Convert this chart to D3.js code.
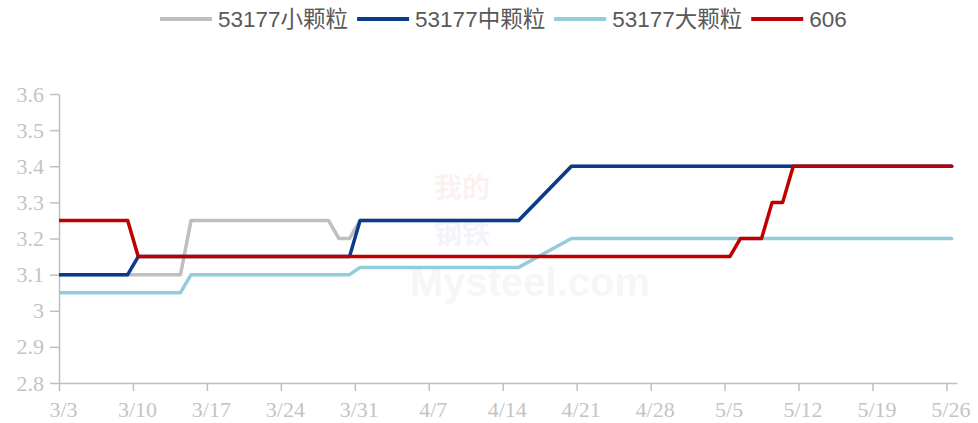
<!DOCTYPE html>
<html>
<head>
<meta charset="utf-8">
<script src="https://cdn.jsdelivr.net/npm/d3@7"></script>
<style>
  body { margin: 0; background: #fff; }
  .axis path, .axis line { stroke: #bfbfbf; stroke-width: 1.5; }
  .axis text { fill: #c4c4c4; font-family: "Liberation Serif", serif; font-size: 22px; }
  .legend text { fill: #595959; font-family: "Liberation Sans", "Noto Sans CJK SC", sans-serif; font-size: 22.5px; }
</style>
</head>
<body>
<svg id="chart" width="978" height="423"></svg>
<script>
// series names and colours
const seriesNames = ["53177小颗粒", "53177中颗粒", "53177大颗粒", "606"];
const seriesColors = ["#bfbfbf", "#0b3b8b", "#92cddc", "#c00000"];

// each series is kept as the dates where its price changes
const smallDates = ["3/2", "3/14", "3/15", "3/28", "3/29", "3/30", "3/31", "4/15", "4/20", "5/26"];
const smallValues = [3.1, 3.1, 3.25, 3.25, 3.2, 3.2, 3.25, 3.25, 3.4, 3.4];

const midDates = ["3/2", "3/9", "3/10", "3/30", "3/31", "4/15", "4/20", "5/26"];
const midValues = [3.1, 3.1, 3.15, 3.15, 3.25, 3.25, 3.4, 3.4];

const bigDates = ["3/2", "3/14", "3/15", "3/30", "3/31", "4/15", "4/20", "5/26"];
const bigValues = [3.05, 3.05, 3.1, 3.1, 3.12, 3.12, 3.2, 3.2];

const s606Dates = ["3/2", "3/9", "3/10", "5/5", "5/6", "5/8", "5/9", "5/10", "5/11", "5/26"];
const s606Values = [3.25, 3.25, 3.15, 3.15, 3.2, 3.2, 3.3, 3.3, 3.4, 3.4];

const xTickLabels = ["3/3", "3/10", "3/17", "3/24", "3/31", "4/7", "4/14", "4/21", "4/28", "5/5", "5/12", "5/19", "5/26"];
const yTicks = [2.8, 2.9, 3.0, 3.1, 3.2, 3.3, 3.4, 3.5, 3.6];

const parse = d3.utcParse("%m/%d");
const svg = d3.select("#chart");

let plotLeft = 59, plotRight = 957, plotTop = 94, plotBottom = 383;

let x = d3.scaleUtc()
  .domain([parse("3/3"), parse("5/27")])
  .range([plotLeft, plotRight]);

let y = d3.scaleLinear()
  .domain([2.8, 3.6])
  .range([plotBottom, plotTop]);

// each day is a slot, the point sits in the middle of it
function px(dateStr) {
  return x(d3.utcHour.offset(parse(dateStr), 12));
}

svg.append("defs").append("clipPath").attr("id", "plotClip")
  .append("rect")
  .attr("x", plotLeft).attr("y", 0)
  .attr("width", plotRight - plotLeft).attr("height", 423);

// faint watermark
let wm = svg.append("g").attr("opacity", 0.05);
wm.append("text").attr("x", 462).attr("y", 198)
  .attr("text-anchor", "middle")
  .style("font-family", "Noto Sans CJK SC").style("font-size", "28px").style("font-weight", "bold")
  .attr("fill", "#c00000").text("我的");
wm.append("text").attr("x", 462).attr("y", 244)
  .attr("text-anchor", "middle")
  .style("font-family", "Noto Sans CJK SC").style("font-size", "28px").style("font-weight", "bold")
  .attr("fill", "#1f3c88").text("钢铁");
wm.append("text").attr("x", 530).attr("y", 296)
  .attr("text-anchor", "middle")
  .style("font-family", "Liberation Sans").style("font-size", "40px").style("font-weight", "bold")
  .attr("fill", "#666").text("Mysteel.com");

// axes
let xAxis = d3.axisBottom(x)
  .tickValues(xTickLabels.map(parse))
  .tickFormat(d3.utcFormat("%-m/%-d"))
  .tickSize(8)
  .tickSizeOuter(0);

let gx = svg.append("g").attr("class", "axis")
  .attr("transform", `translate(0,${plotBottom})`)
  .call(xAxis);
gx.selectAll("text").attr("dx", 4).attr("dy", "1.05em");

let yAxis = d3.axisLeft(y)
  .tickValues(yTicks)
  .tickFormat(d => String(+d.toFixed(1)))
  .tickSize(9)
  .tickSizeOuter(0);

let gy = svg.append("g").attr("class", "axis")
  .attr("transform", `translate(${plotLeft},0)`)
  .call(yAxis);
gy.selectAll("text").attr("x", -15);

// lines
let allSeries = [
  {dates: smallDates, values: smallValues},
  {dates: midDates, values: midValues},
  {dates: bigDates, values: bigValues},
  {dates: s606Dates, values: s606Values}
];

let line = d3.line()
  .x(d => px(d[0]))
  .y(d => y(d[1]));

svg.append("g").attr("clip-path", "url(#plotClip)")
  .selectAll("path")
  .data(allSeries)
  .enter()
  .append("path")
  .attr("d", s => line(s.dates.map((d, i) => [d, s.values[i]])))
  .attr("fill", "none")
  .attr("stroke", (s, i) => seriesColors[i])
  .attr("stroke-width", 3.5)
  .attr("stroke-linejoin", "round")
  .attr("stroke-linecap", "round");

// legend
let legend = svg.append("g").attr("class", "legend");
let lx = 160;
seriesNames.forEach(function(name, i) {
  legend.append("line")
    .attr("x1", lx).attr("x2", lx + 52)
    .attr("y1", 19).attr("y2", 19)
    .attr("stroke", seriesColors[i])
    .attr("stroke-width", 4);
  let t = legend.append("text")
    .attr("x", lx + 58).attr("y", 27)
    .text(name);
  lx += 58 + t.node().getComputedTextLength() + 9;
});
</script>
</body>
</html>
